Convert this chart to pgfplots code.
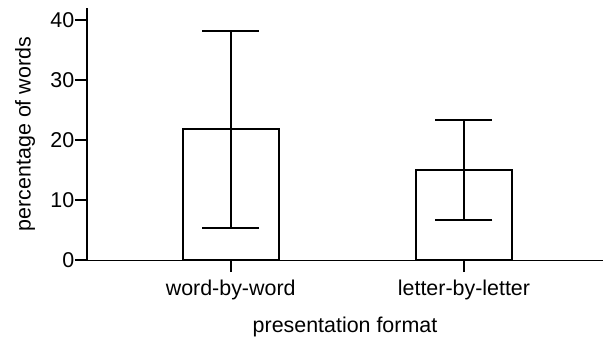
\documentclass[border=0pt]{standalone}
\usepackage{pgfplots}
\pgfplotsset{compat=1.18}
\usepackage{fontspec}
\setmainfont{Liberation Sans}
\begin{document}
\begin{tikzpicture}
\useasboundingbox (-87bp,-77bp) rectangle (516bp,260bp);
\begin{axis}[
  at={(0,0)}, anchor=south west,
  scale only axis, width=516bp, height=252bp,
  xmin=-0.616, xmax=1.596, ymin=0, ymax=42,
  axis x line=bottom, axis y line=left,
  axis line style={-, line width=1.5bp},
  x axis line style={line width=1bp},
  xtick={0,1}, xticklabels={word-by-word,letter-by-letter},
  ytick={0,10,20,30,40},
  tick align=outside, major tick length=12bp,
  tick style={line width=2bp, black},
  /pgf/number format/assume math mode=true,
  ticklabel style={font=\fontsize{21.5}{25}\selectfont},
  yticklabel style={inner sep=0pt, xshift=-0.5bp},
  xticklabel style={inner sep=0pt, yshift=-8bp},
  ylabel={percentage of words},
  xlabel={presentation format},
  label style={font=\fontsize{21.5}{25}\selectfont},
  ylabel style={at={(axis description cs:-0.12,0.5)}, anchor=center},
  xlabel style={at={(axis description cs:0.5,-0.265)}, anchor=center},
]
\addplot[ybar, bar width=96bp, fill=white, draw=black, line width=2bp,
  error bars/.cd, y dir=both, y explicit, error mark=|,
  error bar style={line width=2bp, black},
  error mark options={mark size=28.5bp, line width=2bp, black}]
  table[x=x, y=y, y error plus=ep, y error minus=em] {
  x y ep em
  0 21.8 16.3 16.5
  1 15.0 8.4 8.3
};
\end{axis}
\end{tikzpicture}
\end{document}
